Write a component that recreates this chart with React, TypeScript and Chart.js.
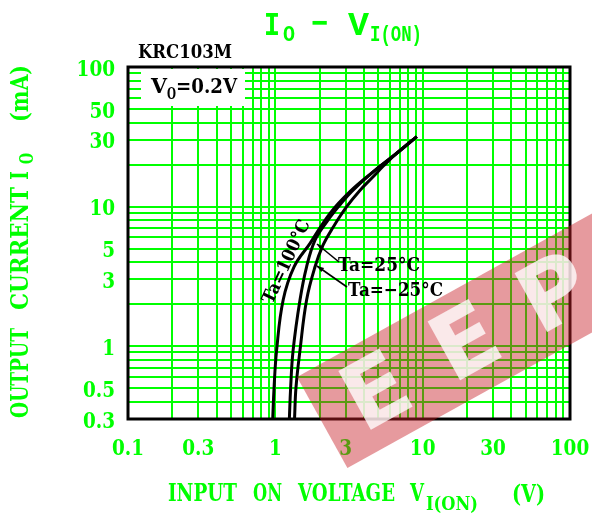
import React, { useEffect, useRef } from "react";
import { Chart, registerables } from "chart.js";

Chart.register(...registerables);

// ---- Data ----
// Ta = 100°C
const V_100 = [0.96, 0.98, 1.02, 1.13, 1.34, 1.72, 2.35, 3.21, 4.63, 6.67, 9.12];
const I_100 = [0.3, 0.5, 0.93, 2.14, 3.7, 5.45, 8.94, 12.8, 17.8, 24.1, 31.7];
// Ta = 25°C
const V_25 = [1.245, 1.27, 1.32, 1.47, 1.63, 1.86, 2.24, 2.75, 3.29, 4.63, 6.67, 9.12];
const I_25 = [0.3, 0.5, 0.93, 2.14, 3.7, 5.75, 7.8, 10.3, 12.8, 17.8, 24.1, 31.7];
// Ta = -25°C
const V_M25 = [1.35, 1.38, 1.47, 1.63, 1.86, 2.11, 2.48, 3.05, 3.76, 4.63, 5.41, 6.67, 9.12];
const I_M25 = [0.3, 0.5, 0.93, 2.14, 3.7, 5.3, 7.17, 9.97, 13.1, 16.4, 19.5, 24.1, 31.7];

// Axis ticks
const X_LABELS = [0.1, 0.3, 1, 3, 10, 30, 100];
const Y_LABELS = [0.3, 0.5, 1, 3, 5, 10, 30, 50, 100];
const X_GRID = [0.1, 0.2, 0.3, 0.4, 0.5, 0.6, 0.7, 0.8, 0.9, 1, 2, 3, 4, 5, 6, 7, 8, 9, 10, 20, 30, 40, 50, 60, 70, 80, 90, 100];
const Y_GRID = [0.3, 0.4, 0.5, 0.6, 0.7, 0.8, 0.9, 1, 2, 3, 4, 5, 6, 7, 8, 9, 10, 20, 30, 40, 50, 60, 70, 80, 90, 100];

const GREEN = "#00ff00";
const SERIF = '"DejaVu Serif"';

function pts(xs: number[], ys: number[]) {
  return xs.map((x, i) => ({ x, y: ys[i] }));
}

function fitText(ctx: CanvasRenderingContext2D, text: string, x: number, y: number, w: number, font: string) {
  ctx.save();
  ctx.font = font;
  ctx.textAlign = "left";
  ctx.textBaseline = "alphabetic";
  const m = ctx.measureText(text).width;
  ctx.translate(x, y);
  ctx.scale(w / m, 1);
  ctx.fillText(text, 0, 0);
  ctx.restore();
}

function tickText(ctx: CanvasRenderingContext2D, text: string, x: number, y: number, align: "center" | "right") {
  ctx.save();
  ctx.font = `bold 23px ${SERIF}`;
  ctx.textAlign = "left";
  ctx.textBaseline = "alphabetic";
  const sx = 0.8;
  const m = ctx.measureText(text).width * sx;
  const left = align === "center" ? x - m / 2 : x - m;
  ctx.translate(left, y);
  ctx.scale(sx, 1);
  ctx.fillText(text, 0, 0);
  ctx.restore();
}

function arrowLine(ctx: CanvasRenderingContext2D, x1: number, y1: number, x2: number, y2: number) {
  ctx.save();
  ctx.strokeStyle = "#000";
  ctx.fillStyle = "#000";
  ctx.lineWidth = 1.6;
  ctx.beginPath();
  ctx.moveTo(x1, y1);
  ctx.lineTo(x2, y2);
  ctx.stroke();
  const a = Math.atan2(y1 - y2, x1 - x2);
  const L = 7, W = 2.5;
  ctx.beginPath();
  ctx.moveTo(x1, y1);
  ctx.lineTo(x1 - L * Math.cos(a) + W * Math.sin(a), y1 - L * Math.sin(a) - W * Math.cos(a));
  ctx.lineTo(x1 - L * Math.cos(a) - W * Math.sin(a), y1 - L * Math.sin(a) + W * Math.cos(a));
  ctx.closePath();
  ctx.fill();
  ctx.restore();
}

const overlay = {
  id: "overlay",
  afterDraw(chart: any) {
    const ctx: CanvasRenderingContext2D = chart.ctx;
    const { left, top, right, bottom } = chart.chartArea;
    const xs = chart.scales.x;
    const ys = chart.scales.y;

    // V_O box
    ctx.save();
    ctx.fillStyle = "#fff";
    ctx.fillRect(141, 69, 104, 37);
    ctx.fillStyle = "#000";
    fitText(ctx, "V", 151, 93, 16, `bold 20px ${SERIF}`);
    fitText(ctx, "O", 167, 99, 9, `bold 16px ${SERIF}`);
    fitText(ctx, "=0.2V", 176, 93, 61, `bold 20px ${SERIF}`);

    // frame
    ctx.strokeStyle = "#000";
    ctx.lineWidth = 3;
    ctx.strokeRect(left, top, right - left, bottom - top);

    // KRC103M
    fitText(ctx, "KRC103M", 138, 58, 94, `bold 18px ${SERIF}`);

    // tick labels
    ctx.fillStyle = GREEN;
    for (const v of X_LABELS) tickText(ctx, String(v), xs.getPixelForValue(v), 455, "center");
    for (const v of Y_LABELS) tickText(ctx, String(v), 115, ys.getPixelForValue(v) + 8.5, "right");

    // title
    const MONO = '"Liberation Mono"';
    fitText(ctx, "I", 264, 35, 16, `bold 34px ${MONO}`);
    fitText(ctx, "O", 283, 41, 12, `bold 22px ${MONO}`);
    fitText(ctx, "\u2212", 311, 34, 17, `bold 34px ${MONO}`);
    fitText(ctx, "V", 348, 35, 21, `bold 34px ${MONO}`);
    fitText(ctx, "I(ON)", 370, 41, 52, `bold 22px ${MONO}`);

    // x axis title
    const F24 = `bold 24px ${SERIF}`;
    fitText(ctx, "INPUT", 168, 501, 69, F24);
    fitText(ctx, "ON", 253, 501, 29, F24);
    fitText(ctx, "VOLTAGE", 298, 501, 97, F24);
    fitText(ctx, "V", 410, 501, 14, F24);
    fitText(ctx, "I(ON)", 426, 510, 52, `bold 19px ${SERIF}`);
    fitText(ctx, "(V)", 512, 502, 33, F24);

    // y axis title (rotated)
    ctx.save();
    ctx.translate(28, 418);
    ctx.rotate(-Math.PI / 2);
    fitText(ctx, "OUTPUT", 0, 0, 90, F24);
    fitText(ctx, "CURRENT", 108, 0, 123, F24);
    fitText(ctx, "I", 238, 0, 9, F24);
    fitText(ctx, "O", 254, 5, 11, `bold 18px ${SERIF}`);
    fitText(ctx, "(mA)", 296, 0, 57, F24);
    ctx.restore();

    // curve labels
    ctx.fillStyle = "#000";
    fitText(ctx, "Ta=25\u00B0C", 338, 271, 82, `bold 19px ${SERIF}`);
    fitText(ctx, "Ta=\u221225\u00B0C", 348, 296, 95, `bold 19px ${SERIF}`);
    arrowLine(ctx, 317, 244, 339, 262);
    arrowLine(ctx, 317, 266, 347, 287);
    ctx.save();
    ctx.translate(287, 262);
    ctx.rotate((-65 * Math.PI) / 180);
    ctx.font = `bold 18px ${SERIF}`;
    const t = "Ta=100\u00B0C";
    const m = ctx.measureText(t).width;
    ctx.scale(90 / m, 1);
    ctx.textAlign = "center";
    ctx.textBaseline = "middle";
    ctx.fillText(t, 0, 0);
    ctx.restore();

    // watermark
    ctx.save();
    ctx.translate(297, 377);
    ctx.rotate((-29 * Math.PI) / 180);
    ctx.fillStyle = "rgba(200,30,40,0.45)";
    ctx.fillRect(0, 0, 430, 104);
    ctx.fillStyle = "rgba(255,255,255,0.78)";
    ctx.font = 'bold 92px "DejaVu Sans"';
    ctx.textAlign = "center";
    ctx.textBaseline = "middle";
    ctx.fillText("E", 62, 58);
    ctx.fillText("E", 164, 58);
    ctx.fillText("P", 266, 58);
    ctx.fillText("W", 380, 58);
    ctx.restore();

    ctx.restore();
  },
};

export default function App() {
  const ref = useRef<HTMLCanvasElement | null>(null);
  useEffect(() => {
    document.body.style.margin = "0";
    const canvas = ref.current!;
    const line = (data: any[]) => ({
      data,
      showLine: true,
      borderColor: "#000",
      borderWidth: 3,
      pointRadius: 0,
      tension: 0.4,
    });
    const chart = new Chart(canvas, {
      type: "scatter",
      data: {
        datasets: [line(pts(V_100, I_100)), line(pts(V_25, I_25)), line(pts(V_M25, I_M25))],
      },
      options: {
        animation: false,
        responsive: false,
        layout: { padding: { left: 0, top: 67, right: 22, bottom: 0 } },
        plugins: { legend: { display: false }, tooltip: { enabled: false } },
        scales: {
          x: {
            type: "logarithmic",
            min: 0.1,
            max: 100,
            afterBuildTicks: (s: any) => {
              s.ticks = X_GRID.map((v) => ({ value: v }));
            },
            afterFit: (s: any) => {
              s.height = 96;
            },
            ticks: { display: false, autoSkip: false },
            grid: { color: GREEN, lineWidth: 2, drawTicks: false },
            border: { display: false },
          },
          y: {
            type: "logarithmic",
            min: 0.3,
            max: 100,
            afterBuildTicks: (s: any) => {
              s.ticks = Y_GRID.map((v) => ({ value: v }));
            },
            afterFit: (s: any) => {
              s.width = 128;
            },
            ticks: { display: false, autoSkip: false },
            grid: { color: GREEN, lineWidth: 2, drawTicks: false },
            border: { display: false },
          },
        },
      },
      plugins: [overlay],
    });
    return () => chart.destroy();
  }, []);
  return (
    <div style={{ width: 592, height: 515, background: "#fff" }}>
      <canvas ref={ref} width={592} height={515} style={{ display: "block" }} />
    </div>
  );
}
